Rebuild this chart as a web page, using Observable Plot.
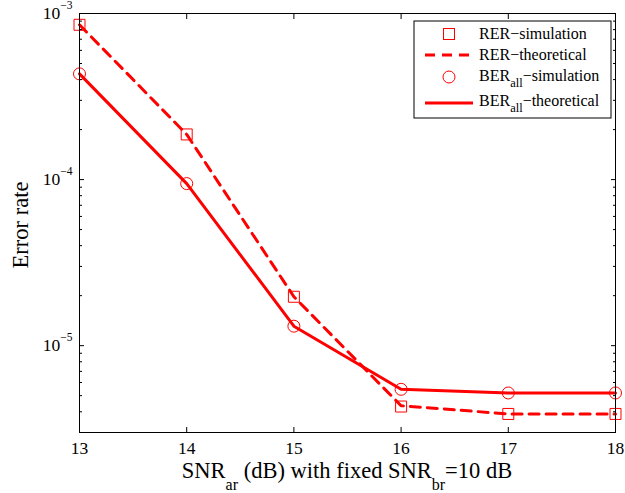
<!DOCTYPE html>
<html><head><meta charset="utf-8">
<script src="https://cdn.jsdelivr.net/npm/d3@7"></script>
<script src="https://cdn.jsdelivr.net/npm/@observablehq/plot@0.6"></script>
<style>
body{margin:0;background:#fff}
#chart svg{display:block;font-family:"Liberation Serif","Times New Roman",serif}
</style>
</head><body><div id="chart"></div>
<script>
const snr = [13, 14, 15, 16, 17, 18];
const rerSim = [8.55e-4, 1.87e-4, 1.97e-5, 4.3e-6, 3.88e-6, 3.88e-6];
const rerTheory = [8.55e-4, 1.87e-4, 1.97e-5, 4.35e-6, 3.88e-6, 3.88e-6];
const berSim = [4.33e-4, 9.46e-5, 1.31e-5, 5.46e-6, 5.19e-6, 5.19e-6];
const berTheory = [4.33e-4, 9.46e-5, 1.31e-5, 5.46e-6, 5.19e-6, 5.19e-6];
const xTicks = [13, 14, 15, 16, 17, 18];
const yMajor = [1e-5, 1e-4, 1e-3];
const yMinor = [3e-6,4e-6,5e-6,6e-6,7e-6,8e-6,9e-6,2e-5,3e-5,4e-5,5e-5,6e-5,7e-5,8e-5,9e-5,2e-4,3e-4,4e-4,5e-4,6e-4,7e-4,8e-4,9e-4];
const yDomain = [3e-6, 1e-3];
const legendLabels = [["RER", "", "−simulation"], ["RER", "", "−theoretical"], ["BER", "all", "−simulation"], ["BER", "all", "−theoretical"]];
const xLabelParts = [["SNR", false], ["ar", true], [" (dB) with fixed SNR", false], ["br", true], ["=10 dB", false]];
const yLabel = "Error rate";

const rer = snr.map((x, i) => ({x, sim: rerSim[i], th: rerTheory[i]}));
const ber = snr.map((x, i) => ({x, sim: berSim[i], th: berTheory[i]}));
const RED = "#ff0000";

const plot = Plot.plot({
  width: 625, height: 493,
  marginLeft: 79, marginRight: 10, marginTop: 13, marginBottom: 61,
  style: {fontFamily: "Liberation Serif, Times New Roman, serif", background: "#fff", color: "#000"},
  x: {domain: [13, 18]},
  y: {type: "log", domain: yDomain},
  marks: [
    Plot.line(rer, {x: "x", y: "th", stroke: RED, strokeWidth: 3, strokeDasharray: "10,7"}),
    Plot.line(ber, {x: "x", y: "th", stroke: RED, strokeWidth: 3}),
    Plot.dot(rer, {x: "x", y: "sim", symbol: "square", r: 6.2, stroke: RED, strokeWidth: 1, fill: "none"}),
    Plot.dot(ber, {x: "x", y: "sim", symbol: "circle", r: 6, stroke: RED, strokeWidth: 1, fill: "none"}),
    // tick labels
    Plot.axisX(xTicks, {anchor: "bottom", tickSize: 0, tickPadding: 9, fontSize: 17.5, label: null}),
    Plot.axisY(yMajor, {anchor: "left", tickSize: 0, tickPadding: 7, fontSize: 17.5, label: null,
      tickFormat: d => "10^" + Math.round(Math.log10(d))}),
    // inward ticks
    Plot.axisX(xTicks, {anchor: "bottom", tickSize: 5, dy: -5, fill: "none", label: null}),
    Plot.axisX(xTicks, {anchor: "top", tickSize: 5, dy: 5, fill: "none", label: null}),
    Plot.axisY(yMajor, {anchor: "left", tickSize: 5, dx: 5, fill: "none", label: null}),
    Plot.axisY(yMinor, {anchor: "left", tickSize: 3, dx: 3, fill: "none", label: null}),
    Plot.axisY(yMajor, {anchor: "right", tickSize: 5, dx: -5, fill: "none", label: null}),
    Plot.axisY(yMinor, {anchor: "right", tickSize: 3, dx: -3, fill: "none", label: null}),
    Plot.frame({stroke: "#000", strokeWidth: 1})
  ]
});
document.getElementById("chart").appendChild(plot);

const svg = d3.select(plot);
// superscript exponents for y tick labels
svg.selectAll('g[aria-label="y-axis tick label"] text').each(function() {
  const t = this.textContent;
  const m = t.match(/^10\^(-?\d+)$/);
  if (!m) return;
  const exp = m[1].replace("-", "−");
  this.textContent = "10";
  d3.select(this).append("tspan").attr("dy", "-10").attr("font-size", 11.5).text(exp);
});

// x axis label
const xl = svg.append("text").attr("x", 347).attr("y", 478).attr("text-anchor", "middle")
  .attr("font-size", 22.5).attr("fill", "#000");
xLabelParts.forEach(([s, sub], i) => {
  const prevSub = i > 0 && xLabelParts[i - 1][1];
  const ts = xl.append("tspan").text(s);
  if (sub) ts.attr("dy", 12).attr("font-size", 16);
  else if (prevSub) ts.attr("dy", -12);
});

// y axis label
svg.append("text").attr("transform", "translate(28,225) rotate(-90)").attr("text-anchor", "middle")
  .attr("font-size", 22.5).attr("fill", "#000").text(yLabel);

// legend
const lg = svg.append("g");
lg.append("rect").attr("x", 414).attr("y", 21).attr("width", 197).attr("height", 97)
  .attr("fill", "#fff").attr("stroke", "#000").attr("stroke-width", 1);
const rows = [34, 55, 76, 101];
lg.append("rect").attr("x", 449 - 5.5).attr("y", rows[0] - 5.5).attr("width", 11).attr("height", 11)
  .attr("fill", "none").attr("stroke", RED);
lg.append("line").attr("x1", 425).attr("x2", 473).attr("y1", rows[1]).attr("y2", rows[1])
  .attr("stroke", RED).attr("stroke-width", 3).attr("stroke-dasharray", "10,7");
lg.append("circle").attr("cx", 449).attr("cy", rows[2] + 1).attr("r", 6).attr("fill", "none").attr("stroke", RED);
lg.append("line").attr("x1", 425).attr("x2", 473).attr("y1", rows[3] + 2).attr("y2", rows[3] + 2)
  .attr("stroke", RED).attr("stroke-width", 3);
legendLabels.forEach(([a, sub, b], i) => {
  const t = lg.append("text").attr("x", 479).attr("y", rows[i]).attr("dy", "0.34em")
    .attr("text-anchor", "start").attr("font-size", 16).attr("fill", "#000");
  t.append("tspan").text(a);
  if (sub) {
    t.append("tspan").attr("dy", 6).attr("font-size", 12.5).text(sub);
    t.append("tspan").attr("dy", -6).text(b);
  } else {
    t.append("tspan").text(b);
  }
});
</script>
</body></html>
